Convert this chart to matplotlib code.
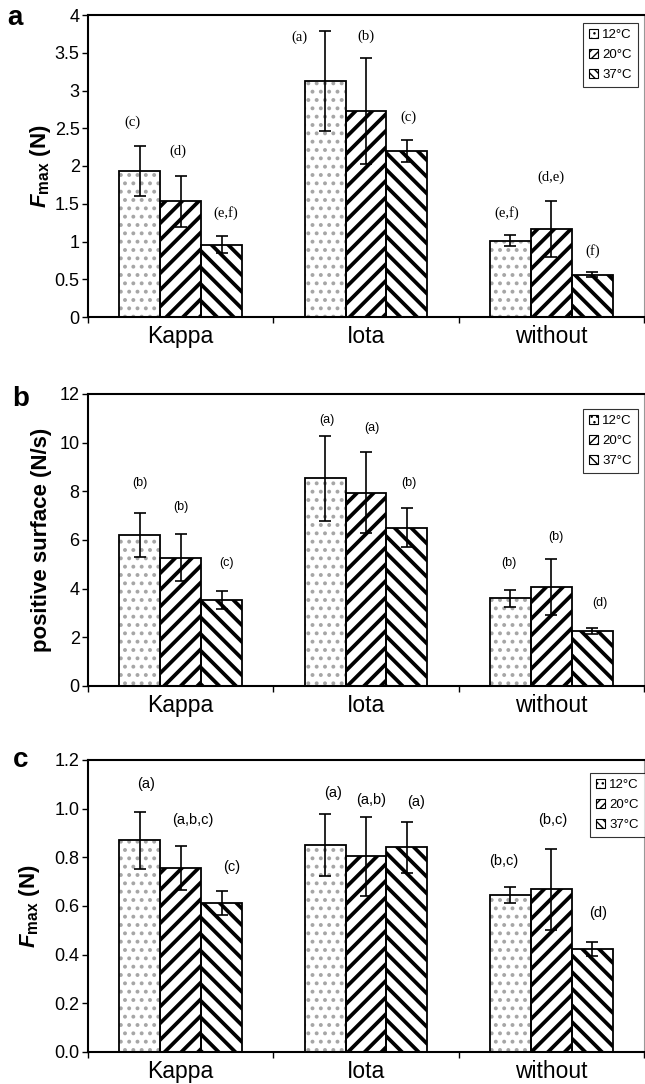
import matplotlib
matplotlib.use("Agg")
import matplotlib.pyplot as plt
from matplotlib.patches import Patch
import numpy as np

plt.rcParams['font.family'] = ['Liberation Sans', 'DejaVu Sans']
plt.rcParams['mathtext.fontset'] = 'custom'
plt.rcParams['mathtext.rm'] = 'Liberation Sans'
plt.rcParams['mathtext.it'] = 'Liberation Sans:italic'
plt.rcParams['mathtext.bf'] = 'Liberation Sans:bold'
plt.rcParams['mathtext.bfit'] = 'Liberation Sans:bold:italic'
plt.rcParams['hatch.linewidth'] = 2.7

categories = ["Kappa", "Iota", "without"]
temps = ["12°C", "20°C", "37°C"]

# Panel a: Fmax (N)
a_vals = [[1.93, 1.53, 0.96], [3.13, 2.73, 2.20], [1.01, 1.17, 0.56]]
a_errs = [[0.33, 0.34, 0.11], [0.66, 0.70, 0.15], [0.07, 0.37, 0.03]]
a_letters = [["(c)", "(d)", "(e,f)"], ["(a)", "(b)", "(c)"], ["(e,f)", "(d,e)", "(f)"]]
a_label_y = [[2.58, 2.20, 1.38], [3.70, 3.72, 2.65], [1.38, 1.85, 0.88]]
a_label_dx = [[-0.04, -0.015, 0.02], [-0.14, 0.0, 0.01], [-0.02, 0.0, 0.0]]

# Panel b: positive surface (N/s)
b_vals = [[6.21, 5.28, 3.53], [8.53, 7.95, 6.51], [3.60, 4.08, 2.26]]
b_errs = [[0.92, 0.95, 0.38], [1.76, 1.65, 0.80], [0.35, 1.15, 0.12]]
b_letters = [["(b)", "(b)", "(c)"], ["(a)", "(a)", "(b)"], ["(b)", "(b)", "(d)"]]
b_label_y = [[8.33, 7.37, 5.07], [10.93, 10.59, 8.33], [5.07, 6.14, 3.40]]
b_label_dx = [[0.0, 0.0, 0.025], [0.01, 0.03, 0.01], [-0.01, 0.025, 0.04]]

# Panel c: Fmax (N)
c_vals = [[0.87, 0.755, 0.612], [0.852, 0.804, 0.841], [0.645, 0.668, 0.423]]
c_errs = [[0.118, 0.090, 0.050], [0.127, 0.163, 0.104], [0.033, 0.167, 0.030]]
c_letters = [["(a)", "(a,b,c)", "(c)"], ["(a)", "(a,b)", "(a)"], ["(b,c)", "(b,c)", "(d)"]]
c_label_y = [[1.10, 0.953, 0.762], [1.066, 1.036, 1.029], [0.785, 0.953, 0.570]]
c_label_dx = [[0.035, 0.065, 0.055], [0.045, 0.03, 0.05], [-0.035, 0.01, 0.03]]

hatches = ['..', '//', '\\\\']
leg_hatches = ['...', '////', '\\\\\\\\']
hatch_cols = ['#a6a6a6', 'black', 'black']
hatch_lw = [1.6, 2.7, 2.7]

W, H = 645, 1084
fig = plt.figure(figsize=(W / 100, H / 100), dpi=100)

def frac_axes(left, top, right, bottom):
    return fig.add_axes([left / W, 1 - bottom / H, (right - left) / W, (bottom - top) / H])

panels = [
    dict(ax=frac_axes(88, 15, 644, 317), vals=a_vals, errs=a_errs, letters=a_letters,
         ly=a_label_y, ldx=a_label_dx, ylim=4, yticks=np.arange(0, 4.01, 0.5),
         fmt=lambda v: f"{v:g}", ylabel=r"$\mathbfit{F}_{\mathbf{max}}$ (N)",
         letter_font=dict(family='Liberation Serif', size=10.5), tag='a',
         tagpos=(7, 25), ylabx=53, leg=(582, 23, 638, 88)),
    dict(ax=frac_axes(88, 394, 644, 686), vals=b_vals, errs=b_errs, letters=b_letters,
         ly=b_label_y, ldx=b_label_dx, ylim=12, yticks=np.arange(0, 12.01, 2),
         fmt=lambda v: f"{v:g}", ylabel="positive surface (N/s)",
         letter_font=dict(size=9), tag='b',
         tagpos=(12, 406), ylabx=52, leg=(582, 409, 638, 475)),
    dict(ax=frac_axes(88, 760, 644, 1052), vals=c_vals, errs=c_errs, letters=c_letters,
         ly=c_label_y, ldx=c_label_dx, ylim=1.2, yticks=np.arange(0, 1.201, 0.2),
         fmt=lambda v: f"{v:.1f}", ylabel=r"$\mathbfit{F}_{\mathbf{max}}$ (N)",
         letter_font=dict(size=10.5), tag='c',
         tagpos=(13, 767), ylabx=42, leg=(588, 773, 645, 828)),
]

width = 0.221
x = np.arange(len(categories))

for p in panels:
    ax = p['ax']
    vals = np.array(p['vals'])
    errs = np.array(p['errs'])
    for j in range(3):
        xs = x + (j - 1) * width
        bars = ax.bar(xs, vals[:, j], width, color='white', edgecolor=hatch_cols[j],
                      hatch=hatches[j], linewidth=0, zorder=2)
        for b in bars:
            try:
                b.set_hatch_linewidth(hatch_lw[j])
            except Exception:
                pass
        ax.bar(xs, vals[:, j], width, color='none', edgecolor='black', linewidth=1.3, zorder=3)
        ax.errorbar(xs, vals[:, j], yerr=errs[:, j], fmt='none', ecolor='black',
                    elinewidth=1.2, capsize=4.5, capthick=1.2, zorder=4)
        for i in range(3):
            ax.text(xs[i] + p['ldx'][i][j], p['ly'][i][j], p['letters'][i][j],
                    ha='center', va='center', zorder=5, **p['letter_font'])
    ax.set_xlim(-0.5, 2.5)
    ax.set_ylim(0, p['ylim'])
    ax.set_yticks(p['yticks'])
    ax.set_yticklabels([p['fmt'](v) for v in p['yticks']])
    ax.set_xticks([-0.5, 0.5, 1.5, 2.5])
    ax.set_xticklabels([])
    ax.set_xticks(x, minor=True)
    ax.set_xticklabels(categories, minor=True, fontsize=16.5)
    ax.tick_params(axis='x', which='minor', length=0, pad=5.5)
    ax.tick_params(axis='x', which='major', length=4, width=1, direction='out')
    ax.tick_params(axis='y', length=4, width=1, direction='out', labelsize=13, pad=2)
    for s in ['left', 'bottom', 'top']:
        ax.spines[s].set_linewidth(1.5)
        ax.spines[s].set_color('black')
    ax.spines['right'].set_color('#999999')
    ax.spines['right'].set_linewidth(0.8)
    ax.set_ylabel(p['ylabel'], fontsize=16, fontweight='bold')
    ax.yaxis.set_label_coords((p['ylabx'] - 88) / (644 - 88), 0.5)
    fig.text(p['tagpos'][0] / W, 1 - p['tagpos'][1] / H, p['tag'], fontsize=20,
             fontweight='bold', ha='left', va='baseline')
    handles = []
    for j in range(3):
        hp = Patch(facecolor='white', edgecolor='black', hatch=leg_hatches[j], linewidth=0.8)
        handles.append(hp)
    l, t, r, btm = p['leg']
    leg = ax.legend(handles, temps, loc='upper right',
                    bbox_to_anchor=(r / W, 1 - t / H), bbox_transform=fig.transFigure,
                    fontsize=9.5, frameon=True, fancybox=False, edgecolor='black',
                    handlelength=0.7, handleheight=0.7, handletextpad=0.3,
                    labelspacing=0.6, borderpad=0.45, borderaxespad=0)
    leg.get_frame().set_linewidth(0.8)
    for lp in leg.get_patches():
        try:
            lp.set_hatch_linewidth(1.0)
        except Exception:
            pass

fig.savefig("out.png", dpi=100)
